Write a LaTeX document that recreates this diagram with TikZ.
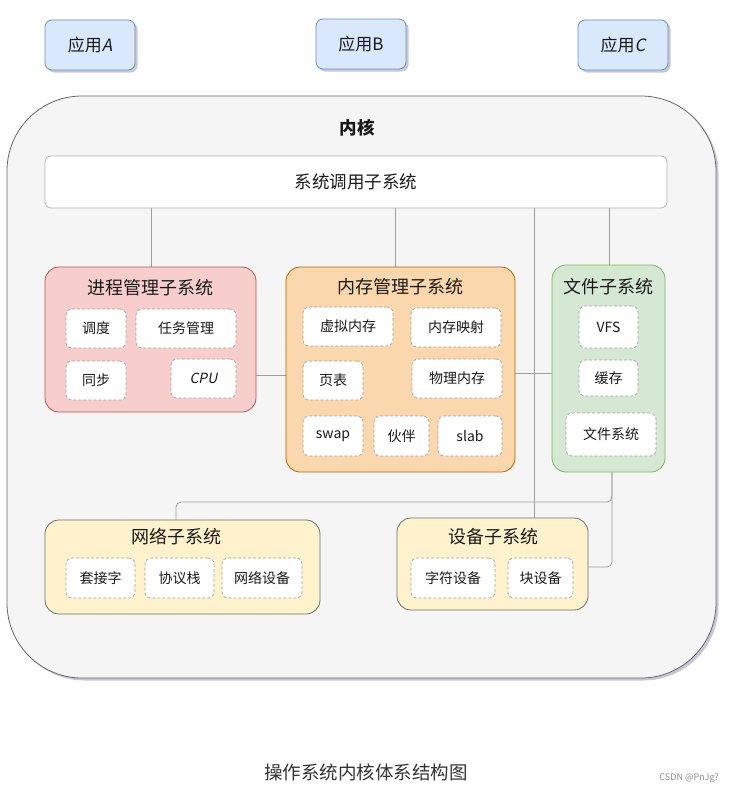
\documentclass[tikz,border=0pt]{standalone}
\usepackage{fontspec}
\setmainfont{Noto Sans CJK SC}[AutoFakeSlant=0.2]
\usetikzlibrary{shadows}
\definecolor{txt}{HTML}{1A1A1A}
\definecolor{appfill}{HTML}{DAE8FC}
\definecolor{appdraw}{HTML}{6C8EBF}
\definecolor{kfill}{HTML}{F5F5F5}
\definecolor{kdraw}{HTML}{666666}
\definecolor{sysdraw}{HTML}{B3B3B3}
\definecolor{pfill}{HTML}{F8CECC}
\definecolor{pdraw}{HTML}{B85450}
\definecolor{mfill}{HTML}{FAD7AC}
\definecolor{mdraw}{HTML}{B46504}
\definecolor{ffill}{HTML}{D5E8D4}
\definecolor{fdraw}{HTML}{82B366}
\definecolor{yfill}{HTML}{FFF2CC}
\definecolor{ydraw}{HTML}{6E6E6E}
\definecolor{conncol}{HTML}{9E9E9E}
\definecolor{dashcol}{HTML}{A0A0A0}
\newcommand{\bx}[7]{\node[#6, minimum width={#4-#2}, minimum height={#5-#3}] (#1) at ({(#2+#4)/2},{(#3+#5)/2}) {#7};}
\tikzset{
  shadowed/.style={drop shadow={shadow xshift=2.5pt, shadow yshift=-2.5pt, fill=black!70!blue, opacity=0.22}},
  appbox/.style={draw=appdraw, fill=appfill, rounded corners=7pt, line width=0.8pt, shadowed, inner sep=0pt, font=\fontsize{17}{20}\selectfont, text=txt},
  kbox/.style={draw=kdraw, fill=kfill, rounded corners=75pt, line width=0.8pt, shadowed, inner sep=0pt},
  sysbox/.style={draw=sysdraw, fill=white, rounded corners=6pt, line width=0.7pt, inner sep=0pt, font=\fontsize{17.5}{20}\selectfont, text=txt},
  subbox/.style={rounded corners=14pt, line width=0.8pt, inner sep=0pt},
  pbox/.style={subbox, draw=pdraw, fill=pfill},
  mbox/.style={subbox, draw=mdraw, fill=mfill},
  fbox/.style={subbox, draw=fdraw, fill=ffill},
  ybox/.style={subbox, draw=ydraw, fill=yfill},
  title/.style={font=\fontsize{18}{21}\selectfont, text=txt, inner sep=0pt},
  item/.style={draw=dashcol, dashed, dash pattern=on 3pt off 2pt, fill=white, rounded corners=6pt, line width=0.7pt, inner sep=0pt, font=\fontsize{14}{16}\selectfont, text=txt},
  conn/.style={draw=conncol, line width=0.8pt},
}
\begin{document}
\begin{tikzpicture}[x=1pt,y=-1pt]
\useasboundingbox[fill=white] (0,0) rectangle (733,793);
% apps
\bx{appA}{45}{20}{135}{70}{appbox}{应用\textit{A}}
\bx{appB}{316}{19}{406}{69}{appbox}{应用B}
\bx{appC}{578}{20}{668}{70}{appbox}{应用\textit{C}}
% kernel
\bx{kernel}{7}{96}{716}{678}{kbox}{}
\node[font=\fontsize{17.5}{20}\selectfont\bfseries, text=txt] (ktitle) at (357,128) {内核};
% syscall
\bx{sys}{45}{156}{667}{208}{sysbox}{系统调用子系统}
% connectors
\draw[conn] (151,0 |- sys.south) -- (151,267);
\draw[conn] (395,0 |- sys.south) -- (395,267);
\draw[conn] (534,0 |- sys.south) -- (534,518);
\draw[conn] (609,0 |- sys.south) -- (609,265);
\draw[conn] (256,375) -- (286,375);
\draw[conn] (515,373) -- (552,373);
\draw[conn, rounded corners=5pt] (612,472) -- (612,502) -- (176,502) -- (176,520);
\draw[conn, rounded corners=5pt] (612,472) -- (612,567) -- (588,567);
% process
\bx{proc}{45}{267}{256}{412}{pbox}{}
\node[title] (ptitle) at (150,288) {进程管理子系统};
\bx{p1}{66}{309}{126}{348}{item}{调度}
\bx{p2}{136}{309}{236}{348}{item}{任务管理}
\bx{p3}{66}{361}{126}{400}{item}{同步}
\bx{p4}{171}{359}{236}{398}{item}{\textit{CPU}}
% memory
\bx{mem}{286}{267}{515}{472}{mbox}{}
\node[title] (mtitle) at (400,287) {内存管理子系统};
\bx{m1}{303}{307}{393}{346}{item}{虚拟内存}
\bx{m2}{411}{308}{501}{347}{item}{内存映射}
\bx{m3}{303}{361}{363}{400}{item}{页表}
\bx{m4}{412}{359}{502}{398}{item}{物理内存}
\bx{m5}{303}{416}{363}{456}{item}{swap}
\bx{m6}{374}{416}{429}{456}{item}{伙伴}
\bx{m7}{438}{416}{502}{456}{item}{slab}
% file
\bx{file}{552}{265}{665}{472}{fbox}{}
\node[title] (ftitle) at (608,287) {文件子系统};
\bx{f1}{579}{306}{638}{348}{item}{VFS}
\bx{f2}{579}{360}{638}{396}{item}{缓存}
\bx{f3}{566}{413}{656}{456}{item}{文件系统}
% network
\bx{net}{45}{520}{320}{614}{ybox}{}
\node[title] (ntitle) at (176,537) {网络子系统};
\bx{n1}{66}{558}{135}{598}{item}{套接字}
\bx{n2}{145}{558}{214}{598}{item}{协议栈}
\bx{n3}{222}{558}{302}{598}{item}{网络设备}
% device
\bx{dev}{397}{518}{588}{610}{ybox}{}
\node[title] (dtitle) at (493,537) {设备子系统};
\bx{d1}{411}{558}{495}{598}{item}{字符设备}
\bx{d2}{508}{558}{573}{598}{item}{块设备}
% caption
\node[font=\fontsize{18.5}{21}\selectfont, text=black!80] (cap) at (366,772) {操作系统内核体系结构图};
\node[font=\fontsize{9}{11}\selectfont, text=black!45] (csdn) at (689,778) {CSDN @PnJg?};
\end{tikzpicture}
\end{document}
